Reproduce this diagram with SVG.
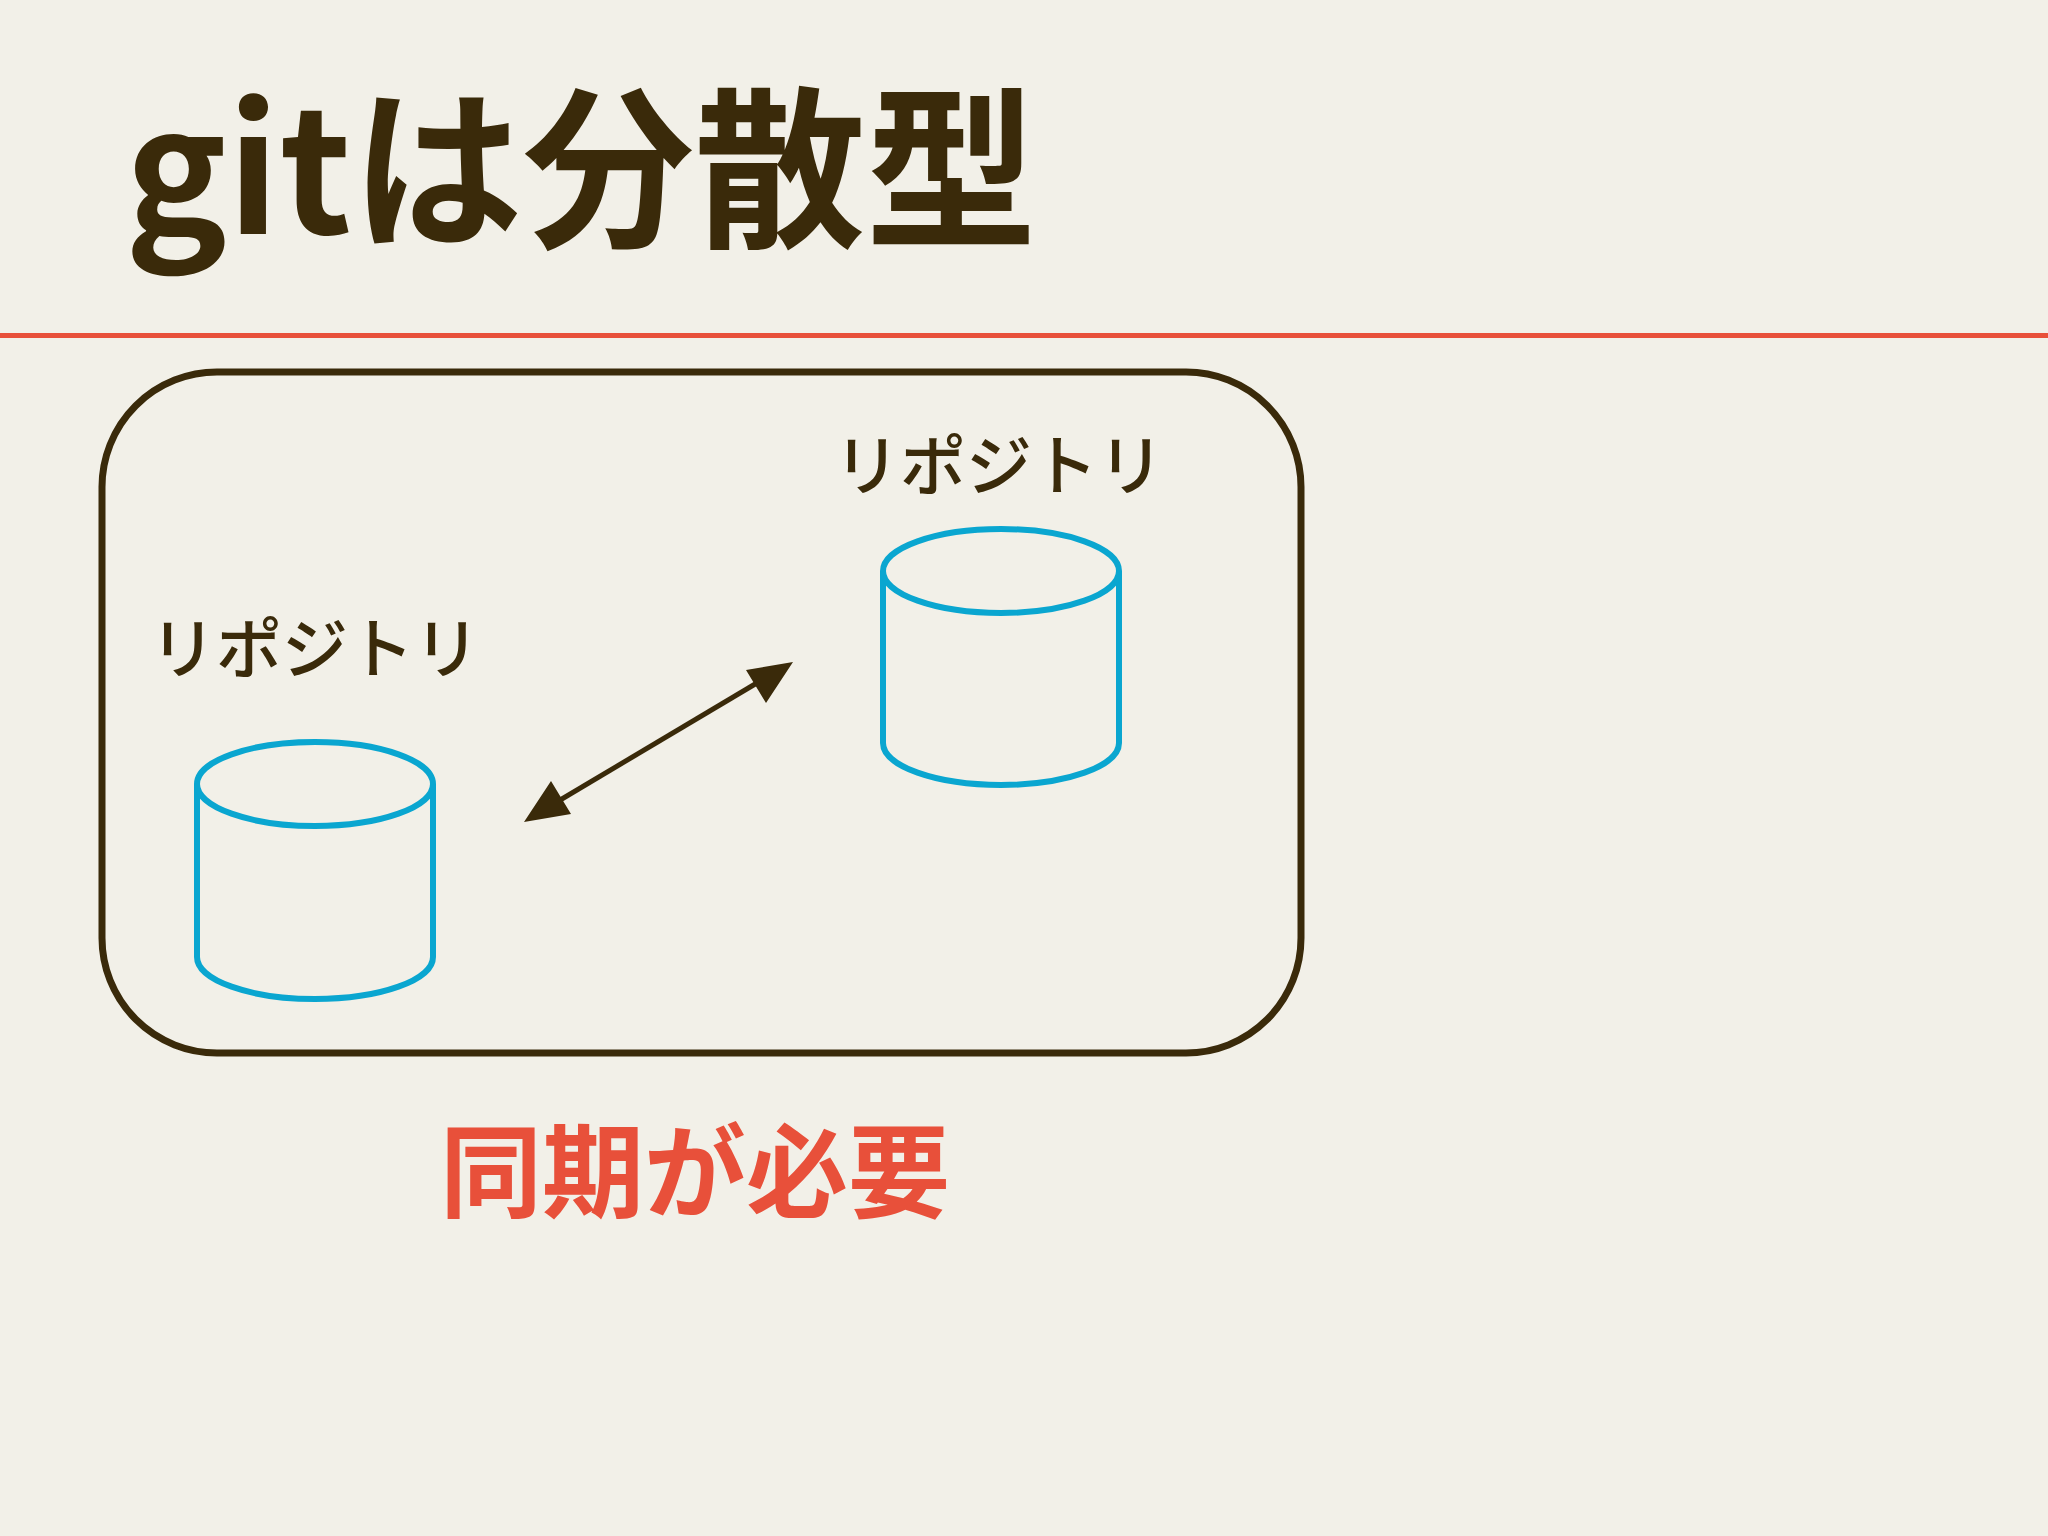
<svg xmlns="http://www.w3.org/2000/svg" width="2048" height="1536" viewBox="0 0 2048 1536">
<style>
.t{font-family:"Noto Sans CJK JP","Noto Sans",sans-serif;fill:#3a2a0a}
.cyl{fill:none;stroke:#0aa6d0;stroke-width:6}
</style>
<rect width="2048" height="1536" fill="#f2f0e8"/>
<text class="t" x="125" y="234" font-size="174" font-weight="bold" textLength="912" lengthAdjust="spacingAndGlyphs">gitは分散型</text>
<rect x="0" y="333" width="2048" height="5" fill="#e8503a"/>
<g id="frame"><rect x="102" y="372" width="1199" height="681" rx="115" fill="none" stroke="#3a2a0a" stroke-width="7"/></g>
<g id="repo1">
<text class="t" x="150" y="673" font-size="66" font-weight="500" textLength="330">リポジトリ</text>
<path class="cyl" d="M197,784V957A118,42 0 0 0 433,957V784"/>
<ellipse class="cyl" cx="315" cy="784" rx="118" ry="42"/>
</g>
<g id="repo2">
<text class="t" x="834" y="490" font-size="66" font-weight="500" textLength="330">リポジトリ</text>
<path class="cyl" d="M883,571V743A118,42 0 0 0 1119,743V571"/>
<ellipse class="cyl" cx="1001" cy="571" rx="118" ry="42"/>
</g>
<g id="connectors"><line x1="540" y1="812" x2="777" y2="671" stroke="#3a2a0a" stroke-width="5"/>
<path d="M524,822L551,781L571,814z M793,662L766,703L746,670z" fill="#3a2a0a"/></g>
<text x="440" y="1210" font-size="102" font-weight="bold" fill="#e8503a" font-family="Noto Sans CJK JP,sans-serif">同期が必要</text>
</svg>
